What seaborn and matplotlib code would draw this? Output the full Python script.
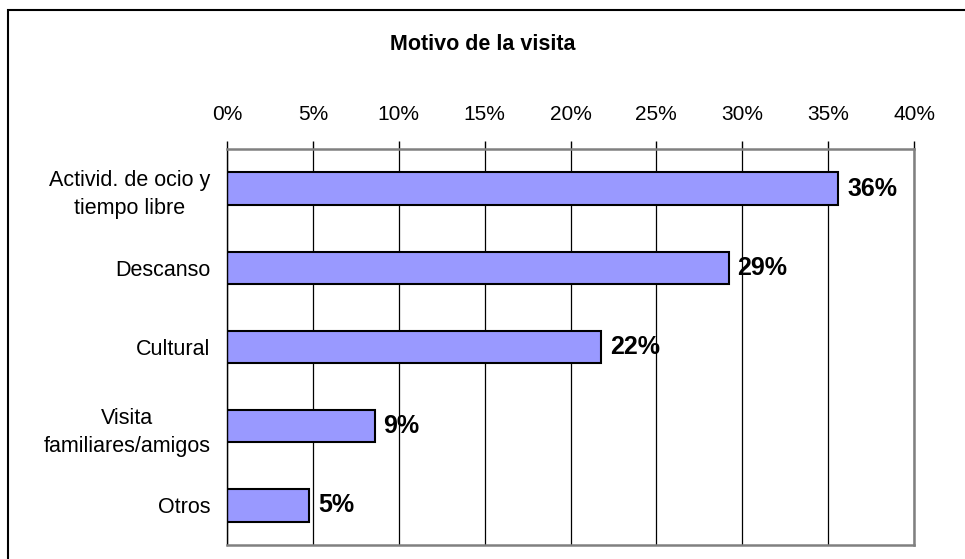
import numpy as np
import pandas as pd
import matplotlib
matplotlib.use('Agg')
import matplotlib.pyplot as plt
import seaborn as sns
from matplotlib.patches import Rectangle

# Data
categories = ['Activid. de ocio y\ntiempo libre', 'Descanso', 'Cultural',
              'Visita\nfamiliares/amigos', 'Otros']
shares = [0.356, 0.292, 0.218, 0.086, 0.048]
x_ticks = [0, 0.05, 0.10, 0.15, 0.20, 0.25, 0.30, 0.35, 0.40]

df = pd.DataFrame({'motivo': categories, 'share': shares})

sns.set_style('white')
plt.rcParams['font.family'] = ['Liberation Sans', 'DejaVu Sans']
plt.rcParams['text.color'] = 'black'
plt.rcParams['xtick.color'] = 'black'
plt.rcParams['ytick.color'] = 'black'

fig = plt.figure(figsize=(9.65, 5.59), dpi=100)
ax = fig.add_axes([227/965, 14/559, 687/965, 396/559])

sns.barplot(data=df, y='motivo', x='share', orient='h', color='#9999FF',
            edgecolor='black', linewidth=1.5, width=0.41, saturation=1, ax=ax)

ax.set_xlim(0, 0.40)
ax.set_ylim(4.5, -0.5)
ax.set_xticks(x_ticks)
ax.set_xticklabels([f'{int(round(t*100))}%' for t in x_ticks], fontsize=15)
ax.xaxis.tick_top()
ax.tick_params(axis='x', which='major', direction='out', length=6, width=1,
               pad=12, color='black')
ax.set_xlabel('')
ax.set_ylabel('')

# category separators on the left axis
ax.set_yticks(np.arange(len(categories)))
ax.set_yticklabels(categories, fontsize=15.5, linespacing=1.45,
                   multialignment='center')
ax.set_yticks(np.arange(-0.5, len(categories)), minor=True)
ax.tick_params(axis='y', which='major', length=0, pad=12)
ax.tick_params(axis='y', which='minor', direction='out', length=6, width=1, color='black')

ax.grid(axis='x', color='black', linewidth=0.9)
ax.set_axisbelow(True)

ax.spines['left'].set_color('black')
ax.spines['left'].set_linewidth(1)
for side in ['top', 'right', 'bottom']:
    ax.spines[side].set_color('#808080')
    ax.spines[side].set_linewidth(1.8)
for s in ax.spines.values():
    s.set_visible(True)

for i, v in enumerate(shares):
    ax.text(v + 0.005, i, f'{int(round(v*100))}%', va='center', ha='left',
            fontsize=18, fontweight='bold')

fig.text(0.5, 1 - 50/559, 'Motivo de la visita', ha='center', va='baseline',
         fontsize=15.5, fontweight='bold')

# outer chart border
fig.patches.append(Rectangle((8/965, -0.05), 1.0, 1 - 10/559 + 0.05,
                             transform=fig.transFigure, fill=False,
                             edgecolor='black', linewidth=1.5))

fig.savefig('out.png', dpi=100)
